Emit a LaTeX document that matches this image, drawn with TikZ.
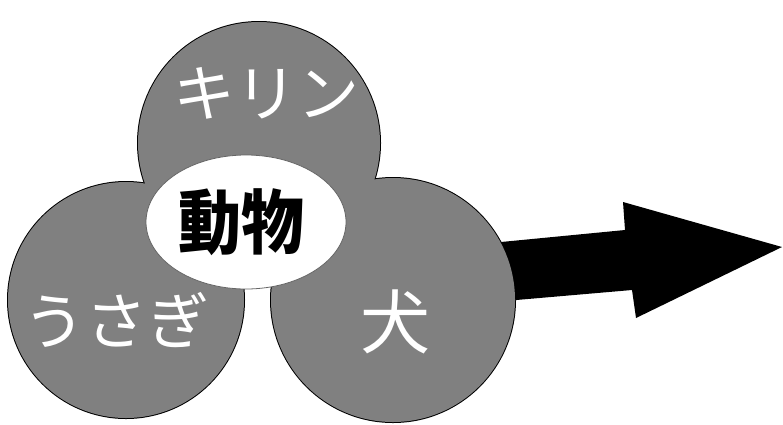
\documentclass[tikz,border=0pt]{standalone}
\usepackage{fontspec}
\newfontfamily\jpfont{Noto Sans CJK JP}
\usetikzlibrary{shapes.geometric}
\definecolor{halftone}{gray}{0.5}

\begin{document}
\begin{tikzpicture}[x=1pt,y=-1pt]
 \tikzstyle{rim}=[draw=black,line width=2pt]
 \tikzstyle{blob}=[fill=halftone]
 \tikzstyle{hub}=[ellipse,fill=white,draw=black!60,line width=.8pt,inner sep=0pt,
 minimum width=200pt,minimum height=134pt]
 \tikzstyle{kind}=[inner sep=0pt,text=white,font=\jpfont\fontsize{62}{62}\selectfont]
\useasboundingbox (0,0) rectangle (783,424);
\fill (470,245) -- (625,230) -- (623,202) -- (782,247) -- (636,318) -- (632,290) -- (470,304) -- cycle;
\foreach \c/\r in {{(259,143)}/121,{(126,300)}/118,{(393,300)}/122}
  \draw[rim] \c circle [radius=\r];
\foreach \c/\r in {{(259,143)}/121,{(126,300)}/118,{(393,300)}/122}
  \fill[blob] \c circle [radius=\r];
\node[hub] (animals) at (246,222) {};
\node[inner sep=0pt,xscale=.9,font=\jpfont\bfseries\fontsize{70}{70}\selectfont] (word) at (241,222) {動物};
\node[kind] (giraffe) at (266,93) {キリン};
\node[kind] (rabbit) at (116,320) {うさぎ};
\node[kind,font=\jpfont\fontsize{70}{70}\selectfont] (dog) at (395,322) {犬};
\end{tikzpicture}
\end{document}
